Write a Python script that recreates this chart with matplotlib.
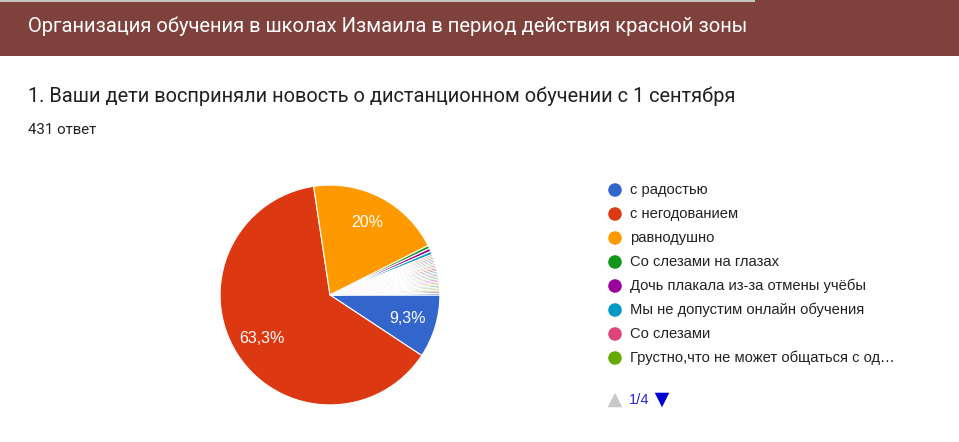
import matplotlib
matplotlib.use('Agg')
import matplotlib.pyplot as plt
from matplotlib.patches import Rectangle

# data (431 answers in total)
header_title = "Организация обучения в школах Измаила в период действия красной зоны"
question = "1. Ваши дети восприняли новость о дистанционном обучении с 1 сентября"
answers_text = "431 ответ"

legend_labels = ["с радостью", "с негодованием", "равнодушно", "Со слезами на глазах",
                 "Дочь плакала из-за отмены учёбы", "Мы не допустим онлайн обучения",
                 "Со слезами", "Грустно,что не может общаться с од…"]
main_counts = [40, 273, 86]
# the rest of the answers: many single replies (legend pages 2-4 are hidden)
minor_counts = [2, 2, 2] + [1] * 26
page_text = "1/4"

colors = ['#3366cc', '#dc3912', '#ff9900', '#109618', '#990099', '#0099c6', '#dd4477',
          '#66aa00', '#b82e2e', '#316395', '#994499', '#22aa99', '#aaaa11', '#6633cc',
          '#e67300', '#8b0707', '#651067', '#329262', '#5574a6', '#3b3eac', '#b77322',
          '#16d620', '#b91383', '#f4359e', '#9c5935', '#a9c413', '#2a778d', '#668d1c',
          '#bea413', '#0c5922', '#743411', '#3366cc']

W, H = 959, 442
fig = plt.figure(figsize=(W / 100, H / 100), dpi=100)
fig.patch.set_facecolor('white')


def fx(px):
    return px / W


def fy(py):
    return 1 - py / H


# header band
fig.patches.append(Rectangle((0, fy(56)), 1, fy(2) - fy(56), transform=fig.transFigure,
                             facecolor='#7f413c', edgecolor='none'))
fig.patches.append(Rectangle((0, fy(2)), 1, fy(0) - fy(2), transform=fig.transFigure,
                             facecolor='#c4c4c4', edgecolor='none'))
fig.patches.append(Rectangle((fx(755), fy(2)), fx(228), fy(0) - fy(2), transform=fig.transFigure,
                             facecolor='#7f413c', edgecolor='none'))
fig.text(fx(28), fy(26), header_title, color='white', fontsize=14.5, family='Roboto',
         va='center', ha='left')

fig.text(fx(28), fy(96), question, color='#202124', fontsize=14.4, family='Roboto',
         va='center', ha='left')
fig.text(fx(28), fy(130), answers_text, color='#202124', fontsize=10.8, family='Roboto',
         va='center', ha='left')

# pie
cx, cy, r = 330, 295, 111
ax = fig.add_axes([fx(cx - r), fy(cy + r), fx(2 * r), (2 * r) / H])
values = main_counts + minor_counts
total = sum(values)


def pct_label(p):
    if p < 5:
        return ''
    s = '%.1f' % p
    if s.endswith('.0'):
        s = s[:-2]
    return s.replace('.', ',') + '%'


wedges, texts, autotexts = ax.pie(values, colors=colors[:len(values)], startangle=0,
                                  counterclock=False, autopct=pct_label, pctdistance=0.74,
                                  wedgeprops=dict(edgecolor='white', linewidth=0.8),
                                  textprops=dict(color='white', fontsize=11.5,
                                                 family='Liberation Sans'))
ax.set_xlim(-1.01, 1.01)
ax.set_ylim(-1.01, 1.01)
ax.set_aspect('equal')
ax.axis('off')

# legend (first page)
lax = fig.add_axes([0, 0, 1, 1], facecolor='none')
lax.set_xlim(0, W)
lax.set_ylim(H, 0)
lax.axis('off')
for i, lab in enumerate(legend_labels):
    y = 190 + 24 * i
    lax.scatter([615], [y], s=95, color=colors[i], edgecolors='none')
    lax.text(630, y, lab, fontsize=10.65, family='Liberation Sans', color='#222222',
             va='center', ha='left')

lax.scatter([615], [400], s=110, marker='^', color='#c8c8c8', edgecolors='none')
lax.text(629, 400, page_text, fontsize=10.65, family='Liberation Sans', color='#2a2ad0',
         va='center', ha='left')
lax.scatter([662], [400], s=110, marker='v', color='#0000cc', edgecolors='none')

fig.savefig('out.png', dpi=100, facecolor='white')
